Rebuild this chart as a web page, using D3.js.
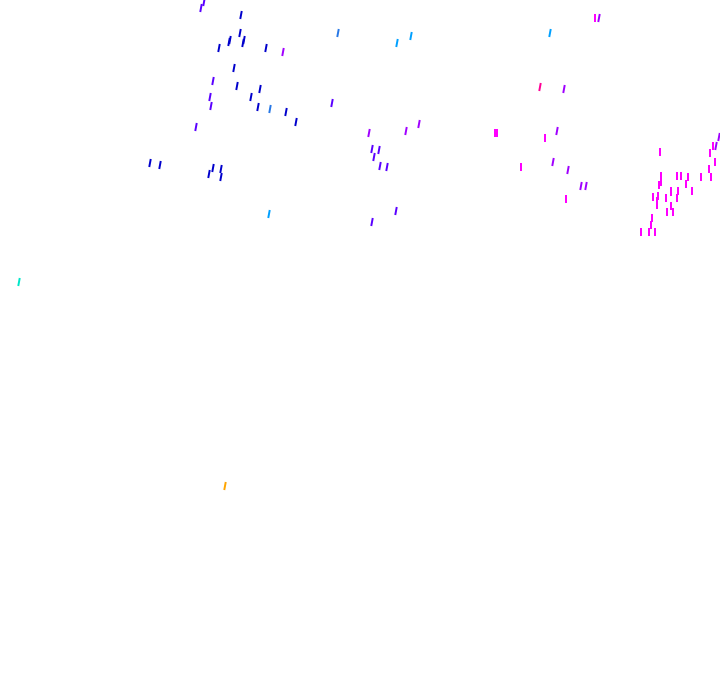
<!DOCTYPE html>
<html>
<head>
<meta charset="utf-8">
<script src="https://cdn.jsdelivr.net/npm/d3@7"></script>
<style>
  html, body { margin: 0; padding: 0; background: #fff; }
</style>
</head>
<body>
<div id="chart"></div>
<script>
// point positions (chart units) and colour group for each mark
const xs = [201, 204, 241, 240, 230, 229, 243, 244, 219, 266, 283, 234, 213, 237, 260, 210, 251, 211, 258, 270,
            286, 296, 196, 150, 160, 213, 221, 209, 221, 269, 338, 397, 411, 550, 540, 564, 332, 369, 406, 419,
            495, 497, 545, 557, 372, 379, 374, 380, 387, 521, 553, 568, 581, 586, 566, 396, 372, 595, 599, 719,
            716, 713, 660, 710, 715, 709, 661, 677, 681, 688, 701, 711, 661, 686, 659, 678, 692, 671, 653, 658,
            666, 677, 657, 671, 657, 671, 667, 673, 652, 651, 649, 641, 655, 19, 225];
const ys = [8, 2, 15, 33, 40, 42, 43, 40, 48, 48, 52, 68, 81, 86, 89, 97, 97, 106, 107, 109,
            112, 122, 127, 163, 165, 168, 169, 174, 177, 214, 33, 43, 36, 33, 87, 89, 103, 133, 131, 124,
            133, 133, 138, 131, 149, 150, 157, 166, 167, 167, 162, 170, 186, 186, 199, 211, 222, 18, 18, 137,
            146, 146, 152, 153, 162, 169, 176, 176, 176, 177, 177, 177, 182, 184, 185, 191, 191, 191, 197, 196,
            198, 198, 201, 192, 205, 206, 212, 212, 218, 225, 232, 232, 232, 282, 486];
const groups = ["V", "V", "B", "B", "B", "B", "B", "B", "B", "B", "P", "B", "V", "B", "B", "V", "B", "V", "B", "C",
                "B", "B", "V", "B", "B", "B", "B", "B", "B", "S", "C", "S", "S", "S", "R", "P", "V", "P", "P", "P",
                "M", "M", "M", "P", "V", "V", "V", "V", "V", "M", "P", "P", "P", "P", "M", "V", "V", "M", "P", "P",
                "P", "M", "M", "M", "M", "M", "M", "M", "M", "M", "M", "M", "M", "M", "M", "M", "M", "M", "M", "M",
                "M", "M", "M", "M", "M", "M", "M", "M", "M", "M", "M", "M", "M", "T", "O"];
const groupNames = ["B", "V", "P", "M", "R", "S", "C", "T", "O"];
const groupColors = ["#0000cc", "#5a00ff", "#a000ff", "#ff00ff", "#ff0096", "#00a0ff", "#2878e6", "#00e6c8", "#ffa500"];

const width = 720;
const height = 692;

const points = xs.map((x, i) => ({ x: x, y: ys[i], g: groups[i] }));

const svg = d3.select("#chart").append("svg")
    .attr("width", width)
    .attr("height", height);

const x = d3.scaleLinear().domain([0, 720]).range([0, width]);
const y = d3.scaleLinear().domain([0, 692]).range([0, height]);
const color = d3.scaleOrdinal().domain(groupNames).range(groupColors);

// each mark is a short stroke, the magenta ones upright, the rest leaning a little
svg.append("g")
    .selectAll("path")
    .data(points)
    .join("path")
    .attr("d", d => {
        const lean = d.g === "M" ? 0 : 1.5;
        return `M${x(d.x) - lean / 2},${y(d.y) + 4}L${x(d.x) + lean / 2},${y(d.y) - 4}`;
    })
    .attr("stroke", d => color(d.g))
    .attr("stroke-width", 2)
    .attr("shape-rendering", d => d.g === "M" ? "crispEdges" : "auto")
    .attr("fill", "none");
</script>
</body>
</html>
